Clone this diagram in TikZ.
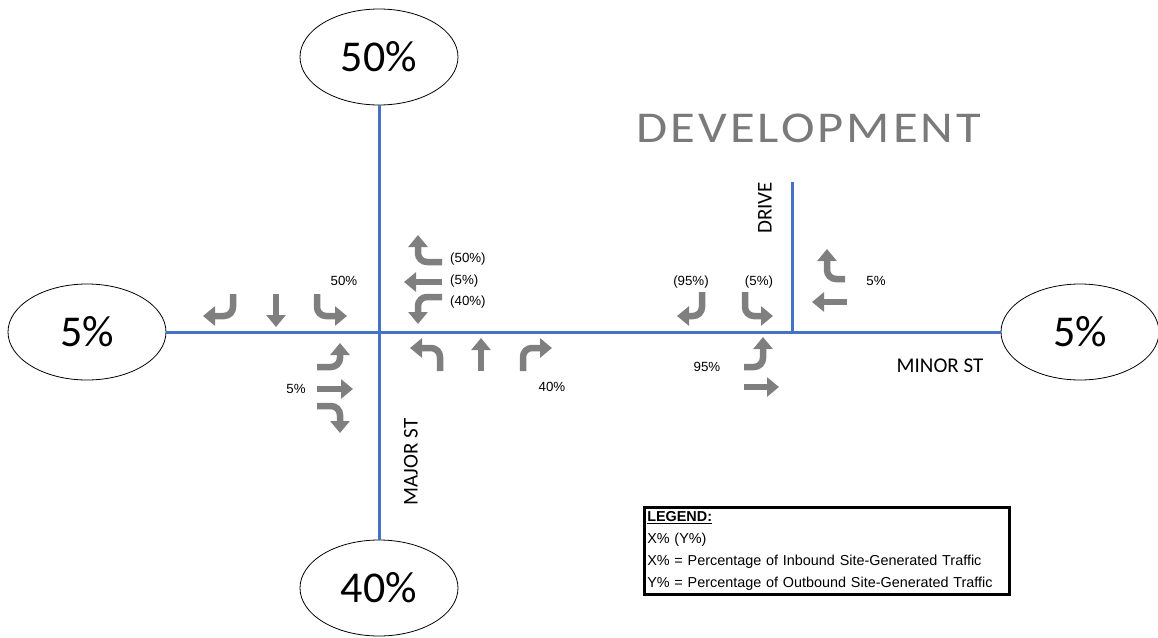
\documentclass[tikz,border=0pt]{standalone}
\usepackage{fontspec}
\setmainfont{Liberation Sans}
\newfontfamily\calib{Carlito}
\newfontfamily\calibwide[LetterSpace=6]{Carlito}
\usetikzlibrary{arrows.meta,shapes.geometric}

\begin{document}
\begin{tikzpicture}[x=1pt,y=-1pt,
  road/.style={line width=3pt,draw=roadblue},
  zone/.style={ellipse,draw=black,line width=.8pt,minimum width=158pt,minimum height=96pt,inner sep=0pt,font=\calib\fontsize{44}{44}\selectfont},
  turn/.style={line width=6.5pt,draw=arrowgray,rounded corners=9pt,-{Triangle[width=19pt,length=12pt]}},
  pct/.style={font=\fontsize{13.3}{15}\selectfont,inner sep=0pt},
  street/.style={font=\calib\fontsize{21}{24}\selectfont,inner sep=0pt}]
\definecolor{roadblue}{RGB}{68,114,196}
\definecolor{arrowgray}{RGB}{127,127,127}
\definecolor{devgray}{RGB}{122,122,122}
\useasboundingbox (0,0) rectangle (1158,637);
\node[zone] (north) at (379,57) {50\%};
\node[zone] (south) at (379,588) {40\%};
\node[zone] (west) at (87,332) {5\%};
\node[zone] (east) at (1080,332) {5\%};
\draw[road] (west) -- (east);
\draw[road] (north) -- (south);
\coordinate (drvtop) at (792,182);
\draw[road] (drvtop) -- (drvtop |- west);
\node[font=\calibwide\fontsize{44}{44}\selectfont,text=devgray,xscale=1.15] (dev) at (809,128) {DEVELOPMENT};
\node[street,rotate=90] (drv) at (765,208) {DRIVE};
\node[street] (minor) at (940,366) {MINOR ST};
\node[street,rotate=90] (major) at (411,462) {MAJOR ST};
\draw[turn] (233,294) |- (203,316);
\draw[turn] (276,294) -- (276,327);
\draw[turn] (317,294) |- (347,316);
\node[pct] (sbin) at (344,281) {50\%};
\draw[turn] (317,367) -| (340,343);
\draw[turn] (317,389) -- (353,389);
\draw[turn] (317,406) -| (340,433);
\node[pct] (ebin) at (296,389) {5\%};
\draw[turn] (442,262) -| (418,235);
\draw[turn] (442,282) -- (404,282);
\draw[turn] (442,297) -| (418,324);
\node[pct,anchor=west] (wbout) at (450,259) {(50\%)};
\node[pct,anchor=west] (wbthru) at (450,281) {(5\%)};
\node[pct,anchor=west] (wbleft) at (450,302) {(40\%)};
\draw[turn] (440,371) |- (410,348);
\draw[turn] (481,371) -- (481,338);
\draw[turn] (523,371) |- (552,348);
\node[pct] (nbin) at (552,387) {40\%};
\draw[turn] (702,292) |- (677,316);
\draw[turn] (745,292) |- (773,316);
\node[pct] (drvright) at (691,282) {(95\%)};
\node[pct] (drvleft) at (759,282) {(5\%)};
\draw[turn] (845,279) -| (827,249);
\draw[turn] (847,302) -- (812,302);
\node[pct] (wbin) at (876,281) {5\%};
\draw[turn] (744,367) -| (763,337);
\draw[turn] (744,387) -- (779,387);
\node[pct] (ebdrv) at (707,367) {95\%};
\node[draw=black,line width=2.5pt,anchor=north west,minimum width=365pt,minimum height=87pt,text width=359pt,inner xsep=3pt,inner ysep=4pt,align=left,font=\fontsize{14.4}{22}\selectfont] (legend) at (643,506) {\underline{\textbf{LEGEND:}}\\X\% (Y\%)\\X\% = Percentage of Inbound Site-Generated Traffic\\Y\% = Percentage of Outbound Site-Generated Traffic};
\end{tikzpicture}
\end{document}
